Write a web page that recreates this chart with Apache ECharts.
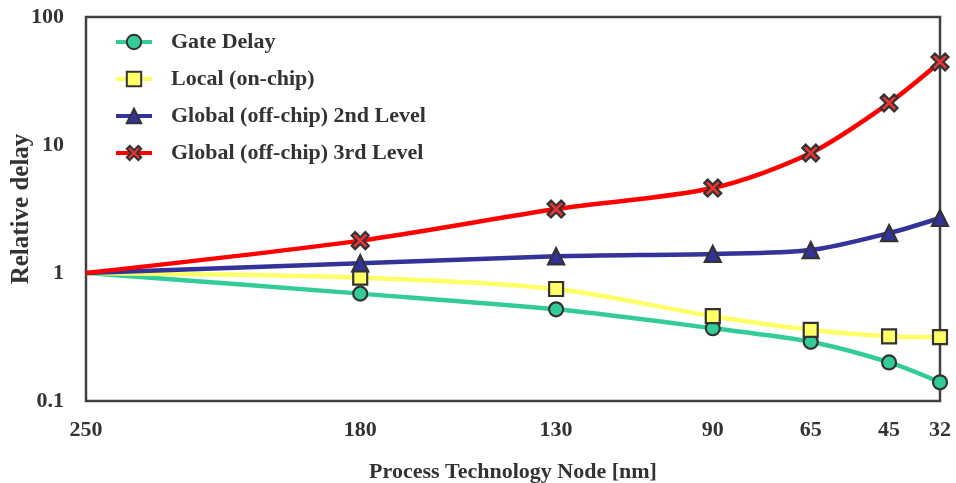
<!DOCTYPE html>
<html>
<head>
<meta charset="utf-8">
<title>Relative delay vs process technology node</title>
<script src="https://cdn.jsdelivr.net/npm/echarts@6/dist/echarts.min.js"></script>
<style>
  html, body { margin: 0; padding: 0; background: #fff; }
  #chart { width: 956px; height: 483px; }
</style>
</head>
<body>
<div id="chart"></div>
<script>
// Technology nodes (nm), from the oldest to the newest
const nodes = [250, 180, 130, 90, 65, 45, 32];
const nodeTicks = [250, 180, 130, 90, 65, 45, 32];
const delayTicks = [0.1, 1, 10, 100];

// Relative delay of each signal class, normalised to the 250 nm node
const gateDelay   = [1.0, 0.69, 0.52, 0.37, 0.29, 0.20, 0.14];
const localDelay  = [1.0, 0.92, 0.75, 0.46, 0.36, 0.32, 0.315];
const global2nd   = [1.0, 1.19, 1.35, 1.41, 1.51, 2.05, 2.69];
const global3rd   = [1.0, 1.79, 3.16, 4.61, 8.66, 21.3, 44.5];

const seriesNames = [
  'Gate Delay',
  'Local (on-chip)',
  'Global (off-chip) 2nd Level',
  'Global (off-chip) 3rd Level'
];

const FONT = '"Liberation Serif", "Times New Roman", serif';
const INK = '#333333';
const crossPath = 'path://M2,0 L5,3 L8,0 L10,2 L7,5 L10,8 L8,10 L5,7 L2,10 L0,8 L3,5 L0,2 Z';

// Pair every value with its node; the 250 nm reference point carries no marker
function toPoints(values) {
  return values.map((v, i) => i === 0
    ? { value: [nodes[i], v], symbol: 'none' }
    : { value: [nodes[i], v] });
}

function lineSeries(name, values, lineColor, symbol, size, fill) {
  return {
    name: name,
    type: 'line',
    data: toPoints(values),
    smooth: 0.3,
    symbol: symbol,
    symbolSize: size,
    showAllSymbol: true,
    lineStyle: { color: lineColor, width: 4.5 },
    itemStyle: { color: fill, borderColor: INK, borderWidth: 2.2 },
    emphasis: { disabled: true }
  };
}

const chart = echarts.init(document.getElementById('chart'), null, { renderer: 'canvas' });

chart.setOption({
  animation: false,
  backgroundColor: '#ffffff',
  grid: {
    left: 86, top: 17, right: 16, bottom: 82,
    containLabel: false,
    outerBoundsMode: 'none',
    show: true,
    borderColor: '#404040',
    borderWidth: 2.5,
    backgroundColor: 'transparent'
  },
  legend: {
    orient: 'vertical',
    left: 109,
    top: 26,
    itemWidth: 36,
    itemHeight: 18,
    itemGap: 15,
    selectedMode: false,
    data: seriesNames,
    lineStyle: { width: 4 },
    textStyle: {
      fontFamily: FONT,
      fontWeight: 'bold',
      fontSize: 22,
      color: INK,
      padding: [0, 0, 0, 14]
    }
  },
  xAxis: {
    type: 'value',
    inverse: true,
    min: 32,
    max: 250,
    name: 'Process Technology Node [nm]',
    nameLocation: 'middle',
    nameGap: 60,
    nameTextStyle: { fontFamily: FONT, fontWeight: 'bold', fontSize: 22, color: INK },
    axisLine: { show: false },
    axisTick: { show: false },
    splitLine: { show: false },
    axisLabel: {
      customValues: nodeTicks,
      margin: 18,
      fontFamily: FONT,
      fontWeight: 'bold',
      fontSize: 22,
      color: INK
    }
  },
  yAxis: {
    type: 'log',
    logBase: 10,
    min: 0.1,
    max: 100,
    name: 'Relative delay',
    nameLocation: 'middle',
    nameRotate: 90,
    nameGap: 52,
    nameMoveOverlap: false,
    nameTextStyle: { fontFamily: FONT, fontWeight: 'bold', fontSize: 25, color: INK },
    axisLine: { show: false },
    axisTick: { show: false },
    splitLine: { show: false },
    axisLabel: {
      customValues: delayTicks,
      margin: 22,
      fontFamily: FONT,
      fontWeight: 'bold',
      fontSize: 22,
      color: INK,
      formatter: v => String(+v.toPrecision(3))
    }
  },
  series: [
    lineSeries(seriesNames[0], gateDelay, '#33CC99', 'circle', 14, '#33CC99'),
    lineSeries(seriesNames[1], localDelay, '#FFFF66', 'rect', 14, '#FFFF66'),
    lineSeries(seriesNames[2], global2nd, '#333399', 'triangle', 16, '#333399'),
    lineSeries(seriesNames[3], global3rd, '#FF0000', crossPath, 17, '#EE3333')
  ]
});
</script>
</body>
</html>
